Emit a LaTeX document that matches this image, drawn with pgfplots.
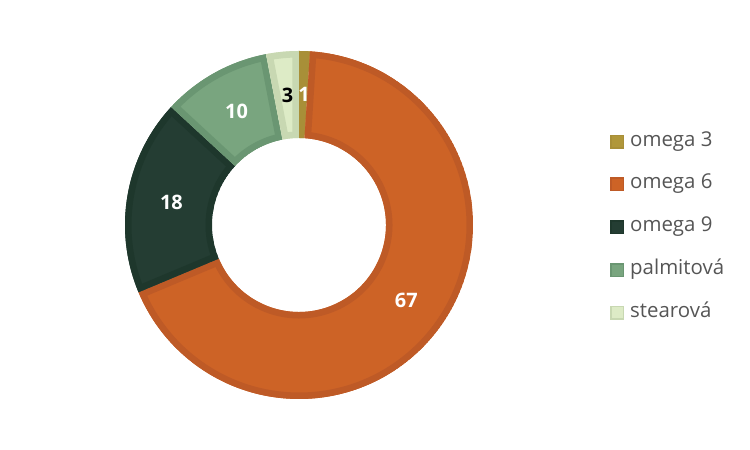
\documentclass[border=0pt]{standalone}
\usepackage{pgfplots}
\pgfplotsset{compat=1.18}
\usetikzlibrary{calc}
\usepackage{fontspec}
\setmainfont{Open Sans}
\definecolor{fA}{HTML}{B0973A}\definecolor{bA}{HTML}{A88F38}
\definecolor{fB}{HTML}{CD6326}\definecolor{bB}{HTML}{BE5A26}
\definecolor{fC}{HTML}{243D33}\definecolor{bC}{HTML}{1E372C}
\definecolor{fD}{HTML}{79A57F}\definecolor{bD}{HTML}{6A9672}
\definecolor{fE}{HTML}{DDEBC6}\definecolor{bE}{HTML}{C8D8B2}
\definecolor{lgray}{HTML}{555555}
% data values (clockwise from 12 o'clock)
\def\vA{1}   % omega 3
\def\vB{67}  % omega 6
\def\vC{18}  % omega 9
\def\vD{10}  % palmitova
\def\vE{3}   % stearova
\pgfmathsetmacro\tot{\vA+\vB+\vC+\vD+\vE}
\pgfmathsetmacro\aA{90}
\pgfmathsetmacro\aB{\aA-360*(\vA/\tot)}
\pgfmathsetmacro\aC{\aB-360*(\vB/\tot)}
\pgfmathsetmacro\aD{\aC-360*(\vC/\tot)}
\pgfmathsetmacro\aE{\aD-360*(\vD/\tot)}
\pgfmathsetmacro\aF{\aE-360*(\vE/\tot)}
\newcommand\sector[4]{%
  \begin{scope}
    \clip ($(axis cs:299,225)+(#1:174bp)$) arc[start angle=#1,end angle=#2,radius=174bp]
      -- ($(axis cs:299,225)+(#2:87bp)$) arc[start angle=#2,end angle=#1,radius=87bp] -- cycle;
    \fill[#3] ($(axis cs:299,225)+(#1:174bp)$) arc[start angle=#1,end angle=#2,radius=174bp]
      -- ($(axis cs:299,225)+(#2:87bp)$) arc[start angle=#2,end angle=#1,radius=87bp] -- cycle;
    \draw[#4,line width=13bp] ($(axis cs:299,225)+(#1:174bp)$) arc[start angle=#1,end angle=#2,radius=174bp]
      -- ($(axis cs:299,225)+(#2:87bp)$) arc[start angle=#2,end angle=#1,radius=87bp] -- cycle;
  \end{scope}}
\tikzset{dlab/.style={font=\fontsize{20}{20}\selectfont\bfseries}}
\begin{document}
\begin{tikzpicture}
\begin{axis}[x=1bp,y=1bp,xmin=0,xmax=750,ymin=0,ymax=450,
  scale only axis,hide axis,clip=false,
  legend cell align=left,
  legend image code/.code={\draw[#1,line width=1.5bp] (0.75bp,-6.25bp) rectangle (13.25bp,6.25bp);},
  legend style={at={(axis cs:610,317)},anchor=north west,draw=none,fill=none,inner sep=0pt,
    font=\fontsize{20.5}{20.5}\selectfont,text=lgray,row sep=25.8bp,
    nodes={inner sep=0pt,text height=13bp,text depth=4bp},
    /tikz/every odd column/.style={column sep=6bp}}]
\path (axis cs:0,0) rectangle (axis cs:750,450);
\sector{\aA}{\aB}{fA}{bA}
\sector{\aB}{\aC}{fB}{bB}
\sector{\aC}{\aD}{fC}{bC}
\sector{\aD}{\aE}{fD}{bD}
\sector{\aE}{\aF}{fE}{bE}
\node[text=white,dlab] at ($(axis cs:300,225)+({(\aA+\aB)/2}:130.5bp)$) {\vA};
\node[text=white,dlab] at ($(axis cs:300,225)+({(\aB+\aC)/2}:130.5bp)$) {\vB};
\node[text=white,dlab] at ($(axis cs:300,225)+({(\aC+\aD)/2}:130.5bp)$) {\vC};
\node[text=white,dlab] at ($(axis cs:300,225)+({(\aD+\aE)/2}:130.5bp)$) {\vD};
\node[text=black,dlab] at ($(axis cs:300,225)+({(\aE+\aF)/2}:130.5bp)$) {\vE};
\addlegendimage{fill=fA,draw=bA}\addlegendentry{omega 3}
\addlegendimage{fill=fB,draw=bB}\addlegendentry{omega 6}
\addlegendimage{fill=fC,draw=bC}\addlegendentry{omega 9}
\addlegendimage{fill=fD,draw=bD}\addlegendentry{palmitová}
\addlegendimage{fill=fE,draw=bE}\addlegendentry{stearová}
\end{axis}
\end{tikzpicture}
\end{document}
